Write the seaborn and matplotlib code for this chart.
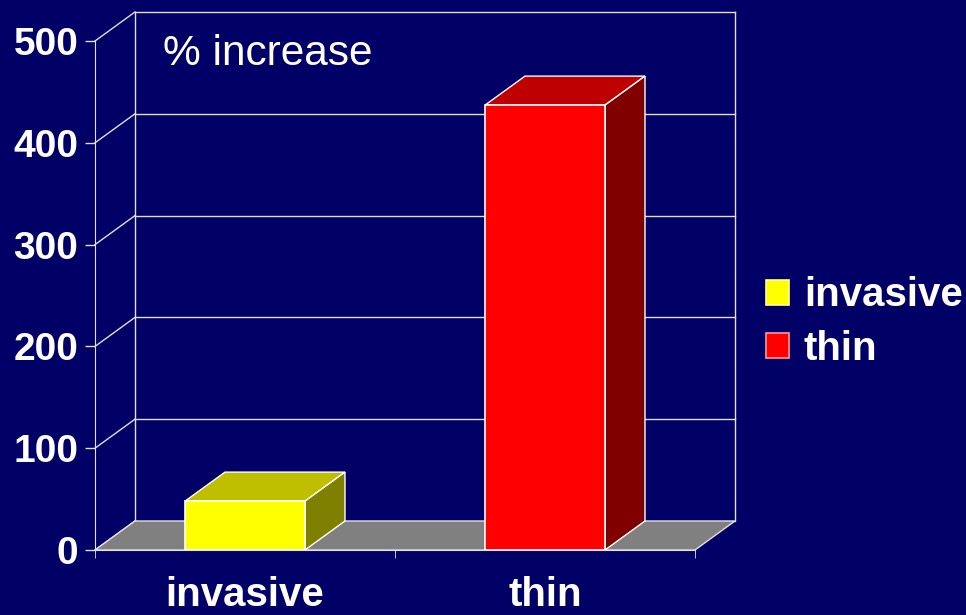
import numpy as np
import seaborn as sns
import matplotlib.pyplot as plt
from matplotlib.patches import Polygon, Patch

# data
categories = ["invasive", "thin"]
values = [48, 437]
front_colors = ["#FFFF00", "#FF0000"]
top_colors = ["#BFBF00", "#BF0000"]
side_colors = ["#808000", "#800000"]
y_ticks = [0, 100, 200, 300, 400, 500]

bg = "#000066"
plt.rcParams['font.family'] = ['Liberation Sans', 'DejaVu Sans']

fig = plt.figure(figsize=(9.66, 6.15), dpi=100, facecolor=bg)
ax = fig.add_axes([95 / 966, 65 / 615, 600 / 966, 509 / 615])
ax.set_facecolor(bg)

sns.barplot(x=categories, y=values, hue=categories, palette=front_colors,
            width=0.4, edgecolor="white", linewidth=1.2, saturation=1,
            legend=False, ax=ax, zorder=4)
ax.set_xlim(-0.5, 1.5)
ax.set_ylim(0, 500)

# 3d depth offset (data units)
dx, dy = 0.1333, 28.5
x0, x1 = -0.5, 1.5
line_kw = dict(color="#E0E0E0", lw=1, clip_on=False, zorder=1)

# back wall: gridlines + diagonals
for v in y_ticks:
    if v > 0:
        ax.plot([x0 + dx, x1 + dx], [v + dy, v + dy], **line_kw)
    ax.plot([x0, x0 + dx], [v, v + dy], **line_kw)
ax.plot([x0 + dx, x0 + dx], [dy, 500 + dy], **line_kw)
ax.plot([x1 + dx, x1 + dx], [dy, 500 + dy], **line_kw)

# floor
floor = Polygon([(x0, 0), (x1, 0), (x1 + dx, dy), (x0 + dx, dy)],
                closed=True, facecolor="#808080", edgecolor="#E0E0E0",
                lw=1, clip_on=False, zorder=2)
ax.add_patch(floor)

# top and side faces of each bar
for i, p in enumerate(ax.patches[:len(values)]):
    bx0 = p.get_x()
    bx1 = bx0 + p.get_width()
    h = p.get_height()
    top = Polygon([(bx0, h), (bx1, h), (bx1 + dx, h + dy), (bx0 + dx, h + dy)],
                  closed=True, facecolor=top_colors[i], edgecolor="white",
                  lw=1, clip_on=False, zorder=3)
    side = Polygon([(bx1, 0), (bx1 + dx, dy), (bx1 + dx, h + dy), (bx1, h)],
                   closed=True, facecolor=side_colors[i], edgecolor="white",
                   lw=1, clip_on=False, zorder=3)
    ax.add_patch(top)
    ax.add_patch(side)

# axes styling
for s in ["top", "right"]:
    ax.spines[s].set_visible(False)
for s in ["left", "bottom"]:
    ax.spines[s].set_color("#E0E0E0")
    ax.spines[s].set_zorder(5)
ax.set_yticks(y_ticks)
ax.set_yticklabels([str(t) for t in y_ticks])
ax.tick_params(axis="y", colors="#E0E0E0", labelcolor="white", length=7,
               width=1, pad=5, labelsize=28)
for lab in ax.get_yticklabels():
    lab.set_fontweight("bold")
ax.set_xticks([0, 1])
ax.set_xticklabels(categories, fontsize=29, fontweight="bold", color="white")
ax.set_xticks([-0.5, 0.5, 1.5], minor=True)
ax.tick_params(axis="x", which="major", length=0, pad=19)
ax.tick_params(axis="x", which="minor", length=6, color="#E0E0E0")
ax.set_xlabel("")
ax.set_ylabel("")
ax.grid(False)

fig.text(163 / 966, 1 - 54 / 615, "% increase", color="white",
         fontsize=30.5, va="center", ha="left")

handles = [Patch(facecolor=front_colors[0], edgecolor="#FFFF99", lw=1.2),
           Patch(facecolor=front_colors[1], edgecolor="#FF9999", lw=1.2)]
leg = fig.legend(handles, categories, loc="center left",
                 bbox_to_anchor=(766 / 966, 1 - 322 / 615), frameon=False,
                 fontsize=29, handlelength=0.57, handleheight=0.57,
                 handletextpad=0.37, labelspacing=0.38, borderaxespad=0,
                 borderpad=0)
for t in leg.get_texts():
    t.set_color("white")
    t.set_fontweight("bold")

fig.savefig("out.png", dpi=100, facecolor=bg)
